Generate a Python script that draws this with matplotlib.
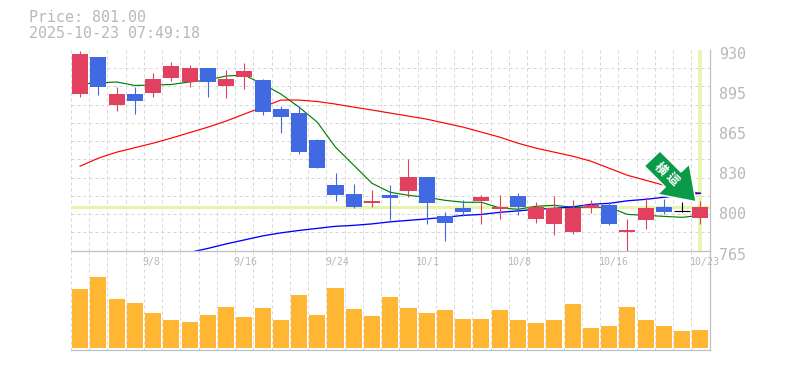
import matplotlib
matplotlib.use('Agg')
import matplotlib.pyplot as plt
from matplotlib.patches import Polygon
from matplotlib.transforms import IdentityTransform, ScaledTranslation, blended_transform_factory
import numpy as np

# Daily candles, oldest first
opens = [893.8, 924.3, 884.7, 893.8, 894.6, 907, 903.7, 915.2, 900.4, 907.8, 905.3, 881.4,
         878.1, 855.8, 818.7, 811.3, 803.8, 810.4, 813.7, 825.3, 793.1, 799.7, 805.5, 798.9,
         809.6, 790.6, 786.5, 779.9, 799.7, 802.2, 779.9, 789.8, 800.5, 797.3, 791.4]
closes = [926.8, 899.8, 893.8, 888, 906.1, 916.9, 915.2, 903.7, 906.1, 912.7, 878.9, 874.8,
          845.9, 832.7, 810.4, 800.5, 805.5, 808, 825.3, 803.8, 787.3, 796.4, 808.8, 800.5,
          800.5, 800.5, 799.7, 799.7, 802.2, 786.5, 781.5, 799.7, 796.4, 797.3, 801]
highs = [929.2, 924.3, 899.8, 899.8, 911.1, 920.1, 917.7, 915.2, 913.6, 919.3, 906.1, 883.9,
         883.9, 856.6, 828.6, 819.5, 814.6, 818.7, 840.1, 825.3, 796.4, 806.3, 810.4, 810.4,
         812.1, 804.7, 809.6, 806.3, 806.3, 804.7, 790.6, 808.8, 807.1, 804.7, 805.5]
lows = [891.3, 892.9, 879.7, 877.3, 891.3, 904.5, 899.5, 891.3, 890.5, 897.9, 876.4, 861.6,
        844.3, 832.7, 805.5, 799.7, 800.5, 789.8, 808.8, 786.5, 772.5, 793.1, 786.5, 790.6,
        793.9, 787.3, 777.4, 778.3, 795.6, 785.7, 765, 782.4, 794.7, 796.4, 786.5]

# Moving averages
ma_short = [902, 902.8, 903.7, 900.8, 901.2, 901.6, 903.7, 905.3, 908.6, 909.4, 902, 893.8,
            883, 870.6, 850, 835.2, 820.3, 812.9, 810.4, 808.8, 806.3, 804.7, 804.7, 800,
            798.9, 801.4, 802.2, 800.5, 800.5, 800.5, 794.7, 793.9, 793.1, 792.3, 793.9]
ma_mid = [834.4, 841, 845.9, 849.6, 853.3, 857.5, 862, 866.5, 871.5, 877.3, 883, 888.8,
          888.8, 887.6, 885.5, 883, 880.6, 878.1, 875.6, 873.1, 869.8, 866.5, 862.4, 858.3,
          853.3, 849.2, 845.9, 842.6, 838.5, 832.7, 826.9, 822.8, 818.7, 814.6, 812.1]
ma_long = [763.4, 766.7, 770.4, 773.7, 777, 779.5, 781.5, 783.2, 784.9, 785.7, 786.9, 788.6,
           789.8, 791, 792.3, 793.9, 794.7, 796.4, 797.6, 798.9, 799.7, 800.9, 803, 803.8,
           805.9, 807.1, 808.8, 810.4, 812.1]
ma_long_start = 6

volumes = [59, 71, 49, 45, 35, 28, 26, 33, 41, 31, 40, 28, 53, 33, 60, 39, 32, 51,
           40, 35, 38, 29, 29, 38, 28, 25, 28, 44, 20, 22, 41, 28, 22, 17, 18]

date_labels = ['9/8', '9/16', '9/24', '10/1', '10/8', '10/16', '10/23']
date_index = [4, 9, 14, 19, 24, 29, 34]
price_ticks = [930, 897, 864, 831, 798, 765]
price_labels = ['930', '895', '865', '830', '800', '765']
last_price = 801

W, H = 785, 370
GRID = '#d6d6d6'
GREY = '#c0c0c0'
TXT = '#b8b8b8'
MONO = 'DejaVu Sans Mono'
DASH = (0, (3, 3))

fig = plt.figure(figsize=(W / 100, H / 100), dpi=100)
L, R = 71 / W, 709.5 / W
ax = fig.add_axes([L, 1 - 250.5 / H, R - L, 200.5 / H])
ax_vol = fig.add_axes([L, 1 - 350 / H, R - L, 99.5 / H], sharex=ax)
ax_vol.patch.set_visible(False)

n = len(opens)
x = np.arange(n) + 0.5

for a in (ax, ax_vol):
	a.set_xlim(0, n)
	a.set_xticks(np.arange(n))
	a.tick_params(axis='both', length=0, labelbottom=False)
	a.grid(True, axis='x', color=GRID, linestyle=DASH, linewidth=0.72)
	a.set_axisbelow(True)
	for side in ['top', 'left']:
		a.spines[side].set_visible(False)
	for side in ['right', 'bottom']:
		a.spines[side].set_color(GREY)
		a.spines[side].set_linewidth(0.9)

# Price panel
ax.set_ylim(765, 930)
ax.set_yticks(np.arange(765, 931, 15), minor=True)
ax.grid(True, which='minor', axis='y', color=GRID, linestyle=DASH, linewidth=0.72)
ax.tick_params(axis='y', which='minor', length=0)
ax.yaxis.tick_right()
ax.set_yticks(price_ticks)
ax.set_yticklabels(price_labels, family=MONO, fontsize=10.8, color=TXT)
ax.tick_params(axis='y', pad=7)
down = ScaledTranslation(0, -3 / 100, fig.dpi_scale_trans)
for lbl in ax.get_yticklabels():
	lbl.set_transform(lbl.get_transform() + down)

ax.axhline(last_price, color='#e5f5ab', linewidth=2.2, zorder=1.5)
ax.axvline(x[-1], ymax=0.99, color='#e5f5ab', linewidth=2.6, zorder=1.5)

ax.plot(x, ma_short, color='#008000', linewidth=0.85, zorder=2)
ax.plot(x, ma_mid, color='#ff0000', linewidth=0.85, zorder=2)
ax.plot(x[ma_long_start:], ma_long, color='#0000ff', linewidth=0.95, zorder=2)

for i in range(n):
	if closes[i] > opens[i]:
		c = '#e2405f'
	elif closes[i] < opens[i]:
		c = '#4169e1'
	else:
		c = 'black'
	ax.vlines(x[i], lows[i], highs[i], color=c, linewidth=0.8, zorder=3)
	if closes[i] == opens[i]:
		ax.hlines(opens[i], x[i] - 0.44, x[i] + 0.44, color=c, linewidth=0.8, zorder=3)
	else:
		ax.bar(x[i], abs(closes[i] - opens[i]), bottom=min(opens[i], closes[i]), width=0.88,
			   color=c, linewidth=0, zorder=3)

# Volume panel
ax_vol.bar(x, volumes, width=0.88, color='#ffb733', linewidth=0, zorder=3)
ax_vol.set_ylim(-2, 97.5)
ax_vol.set_yticks([])

trans = blended_transform_factory(ax_vol.transData, ax_vol.transAxes)
for i, label in zip(date_index, date_labels):
	ax_vol.text(x[i] - 0.58, 0.884, label, transform=trans, ha='left', va='center',
				family=MONO, fontsize=7.1, color=TXT, zorder=4)

# Header
fig.text(29 / W, 1 - 18 / H, 'Price: %.2f' % last_price, family=MONO, fontsize=10.8,
		 color=TXT, va='center')
fig.text(29 / W, 1 - 33 / H, '2025-10-23 07:49:18', family=MONO, fontsize=10.8,
		 color=TXT, va='center')

# Trend arrow, placed in pixels
arrow_px = [(660, 151), (644.3, 166), (665.3, 187), (657.7, 194.3), (696, 201.7),
			(689.3, 164), (681, 172)]
arrow_xy = [(px, H - py) for px, py in arrow_px]
fig.add_artist(Polygon(arrow_xy, closed=True, transform=IdentityTransform(), facecolor='#0b9a47',
					   edgecolor='white', linewidth=1.0, zorder=10))
for glyph, gx, gy in [('横', 660, 169.3), ('這', 672.3, 179.3)]:
	fig.text(gx / W, 1 - gy / H, glyph, family=['Noto Sans CJK JP', 'DejaVu Sans'], fontsize=9,
			 weight='bold', color='white', rotation=-45, ha='center', va='center',
			 rotation_mode='anchor', zorder=11)

fig.savefig('out.png', dpi=100)
